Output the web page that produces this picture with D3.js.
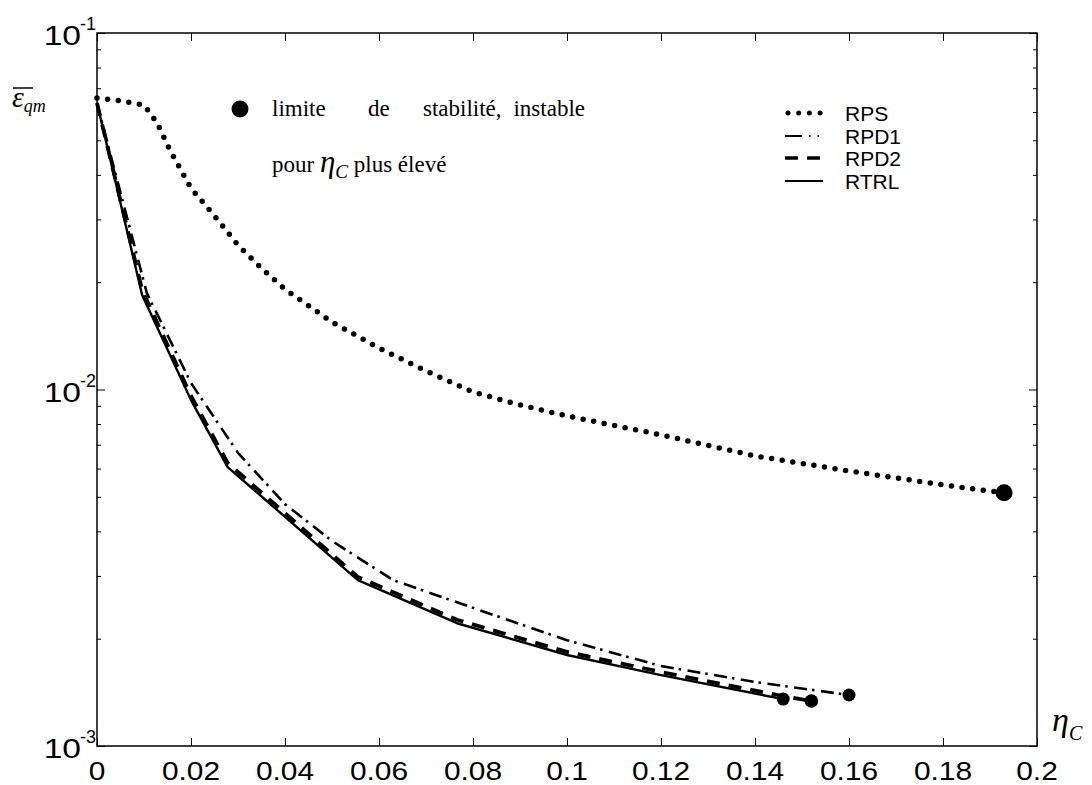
<!DOCTYPE html>
<html>
<head>
<meta charset="utf-8">
<script src="https://cdn.jsdelivr.net/npm/d3@7"></script>
<style>
  body { margin: 0; background: #fff; }
  svg { display: block; }
</style>
</head>
<body>
<div id="chart"></div>
<script>
// values
var etaRPS  = [0, 0.005, 0.01, 0.0128, 0.0155, 0.02, 0.025, 0.03, 0.035, 0.04, 0.05, 0.06, 0.07, 0.08, 0.09, 0.1, 0.12, 0.14, 0.16, 0.18, 0.193];
var errRPS  = [0.0657, 0.0645, 0.0628, 0.0559, 0.0470, 0.0367, 0.0307, 0.0254, 0.0219, 0.0191, 0.01546, 0.01307, 0.01127, 0.00984, 0.00905, 0.00843, 0.00746, 0.00651, 0.00591, 0.00540, 0.00513];

var etaRPD1 = [0, 0.0106, 0.02, 0.03, 0.04, 0.05, 0.063, 0.08, 0.1, 0.12, 0.14, 0.16];
var errRPD1 = [0.0636, 0.01865, 0.01043, 0.00664, 0.00477, 0.00376, 0.00292, 0.00244, 0.00198, 0.001676, 0.001512, 0.00139];

var etaRPD2 = [0, 0.0096, 0.02, 0.0278, 0.0555, 0.0766, 0.1, 0.12, 0.146, 0.152];
var errRPD2 = [0.0636, 0.01902, 0.00959, 0.00622, 0.00298, 0.00226, 0.001836, 0.001613, 0.001381, 0.001337];

var etaRTRL = [0, 0.0096, 0.02, 0.0278, 0.0555, 0.0766, 0.1, 0.12, 0.146];
var errRTRL = [0.0636, 0.01841, 0.00934, 0.00606, 0.00292, 0.00221, 0.0018, 0.00158, 0.001354];

var xTicks = [0, 0.02, 0.04, 0.06, 0.08, 0.1, 0.12, 0.14, 0.16, 0.18, 0.2];
var xTickLabels = ["0", "0.02", "0.04", "0.06", "0.08", "0.1", "0.12", "0.14", "0.16", "0.18", "0.2"];
var yDecades = [1e-1, 1e-2, 1e-3];
var yDecadeExp = ["-1", "-2", "-3"];
var seriesNames = ["RPS", "RPD1", "RPD2", "RTRL"];

var width = 1092, height = 785;
var plotLeft = 97, plotRight = 1037, plotTop = 33, plotBottom = 746;

var svg = d3.select("#chart").append("svg")
    .attr("width", width)
    .attr("height", height);

var x = d3.scaleLinear().domain([0, 0.2]).range([plotLeft, plotRight]);
var y = d3.scaleLog().domain([1e-3, 1e-1]).range([plotBottom, plotTop]);

var sans = "Arial, 'Liberation Sans', Helvetica, sans-serif";
var serif = "'Times New Roman', 'Liberation Serif', 'DejaVu Serif', serif";

// frame
svg.append("rect")
    .attr("x", plotLeft).attr("y", plotTop)
    .attr("width", plotRight - plotLeft).attr("height", plotBottom - plotTop)
    .attr("fill", "none").attr("stroke", "#000").attr("stroke-width", 1.5);

// x ticks, inward on bottom and top
svg.append("g")
    .attr("transform", `translate(0,${plotBottom})`)
    .call(d3.axisBottom(x).tickValues(xTicks).tickSize(-8).tickFormat(""))
    .call(g => g.select(".domain").remove());
svg.append("g")
    .attr("transform", `translate(0,${plotTop})`)
    .call(d3.axisTop(x).tickValues(xTicks).tickSize(-8).tickFormat(""))
    .call(g => g.select(".domain").remove());

// y ticks: decades and minor ticks, inward on both sides
var minor = [];
[1e-3, 1e-2].forEach(function(d) {
    for (var k = 2; k <= 9; k++) minor.push(d * k);
});
svg.append("g")
    .attr("transform", `translate(${plotLeft},0)`)
    .call(d3.axisLeft(y).tickValues(yDecades).tickSize(-8).tickFormat(""))
    .call(g => g.select(".domain").remove());
svg.append("g")
    .attr("transform", `translate(${plotLeft},0)`)
    .call(d3.axisLeft(y).tickValues(minor).tickSize(-4).tickFormat(""))
    .call(g => g.select(".domain").remove());
svg.append("g")
    .attr("transform", `translate(${plotRight},0)`)
    .call(d3.axisRight(y).tickValues(yDecades).tickSize(-8).tickFormat(""))
    .call(g => g.select(".domain").remove());
svg.append("g")
    .attr("transform", `translate(${plotRight},0)`)
    .call(d3.axisRight(y).tickValues(minor).tickSize(-4).tickFormat(""))
    .call(g => g.select(".domain").remove());
svg.selectAll(".tick line").attr("stroke", "#000").attr("stroke-width", 1);

// x tick labels (wide sans digits)
xTicks.forEach(function(t, i) {
    svg.append("text")
        .attr("transform", `translate(${x(t)},780) scale(1.15,1)`)
        .attr("text-anchor", "middle")
        .style("font-family", sans)
        .style("font-size", "26px")
        .text(xTickLabels[i]);
});

// y decade labels 10^k
yDecades.forEach(function(d, i) {
    var yy = y(d);
    svg.append("text")
        .attr("transform", `translate(81,${yy + 12}) scale(1.2,1)`)
        .attr("text-anchor", "end")
        .style("font-family", sans)
        .style("font-size", "28px")
        .text("10");
    svg.append("text")
        .attr("x", 80).attr("y", yy - 3)
        .style("font-family", sans)
        .style("font-size", "18px")
        .text(yDecadeExp[i]);
});

// axis titles
var yTitle = svg.append("text")
    .attr("x", 12).attr("y", 107)
    .style("font-family", serif)
    .style("font-style", "italic");
yTitle.append("tspan").style("font-size", "30px").text("ε");
yTitle.append("tspan").attr("dy", 5).style("font-size", "18px").text("qm");
svg.append("line")
    .attr("x1", 13).attr("x2", 33).attr("y1", 88).attr("y2", 88)
    .attr("stroke", "#000").attr("stroke-width", 1.5);

var xTitle = svg.append("text")
    .attr("x", 1052).attr("y", 731)
    .style("font-family", serif)
    .style("font-style", "italic");
xTitle.append("tspan").style("font-size", "34px").text("η");
xTitle.append("tspan").attr("dy", 9).style("font-size", "20px").text("C");

// curves
var line = d3.line()
    .x(d => x(d[0]))
    .y(d => y(d[1]));

function pairs(eta, err) {
    return eta.map((e, i) => [e, err[i]]);
}

var series = [
    { name: "RPS",  data: pairs(etaRPS, errRPS),   width: 5.5, dash: "0 10.7", cap: "round", r: 8.5 },
    { name: "RPD1", data: pairs(etaRPD1, errRPD1), width: 2.6, dash: "13 5 2.5 6.5", cap: "butt", r: 6.5 },
    { name: "RPD2", data: pairs(etaRPD2, errRPD2), width: 3.8, dash: "13 9", cap: "butt", r: 6.8 },
    { name: "RTRL", data: pairs(etaRTRL, errRTRL), width: 2.4, dash: null, cap: "butt", r: 6.5 }
];

series.forEach(function(s) {
    svg.append("path")
        .datum(s.data)
        .attr("d", line)
        .attr("fill", "none")
        .attr("stroke", "#000")
        .attr("stroke-width", s.width)
        .attr("stroke-linecap", s.cap)
        .attr("stroke-linejoin", "round")
        .attr("stroke-dasharray", s.dash);
    // stability limit marker at the last point
    var last = s.data[s.data.length - 1];
    svg.append("circle")
        .attr("cx", x(last[0]))
        .attr("cy", y(last[1]))
        .attr("r", s.r)
        .attr("fill", "#000");
});

// annotation
svg.append("circle").attr("cx", 240).attr("cy", 109).attr("r", 8.5).attr("fill", "#000");
var words = ["limite", "de", "stabilité,", "instable"];
var wordX = [272, 368, 423, 585];
words.forEach(function(w, i) {
    svg.append("text")
        .attr("x", wordX[i]).attr("y", 116)
        .attr("text-anchor", i === 3 ? "end" : "start")
        .style("font-family", serif)
        .style("font-size", "23px")
        .text(w);
});
var note2 = svg.append("text")
    .attr("x", 272).attr("y", 172)
    .style("font-family", serif)
    .style("font-size", "23px");
note2.append("tspan").text("pour ");
note2.append("tspan").style("font-style", "italic").style("font-size", "31px").text("η");
note2.append("tspan").attr("dy", 6).style("font-style", "italic").style("font-size", "19px").text("C");
note2.append("tspan").attr("dy", -6).text(" plus élevé");

// legend
var legendY = [113, 136, 158, 181];
var legendDash = ["0 10.7", "17 7 1.5 7 1.5 10", "13 9", null];
series.forEach(function(s, i) {
    var x1 = s.name === "RPS" ? 788 : 785;
    svg.append("line")
        .attr("x1", x1).attr("x2", 823)
        .attr("y1", legendY[i]).attr("y2", legendY[i])
        .attr("stroke", "#000")
        .attr("stroke-width", s.name === "RPS" ? 5 : (s.name === "RPD2" ? 3.5 : 2.2))
        .attr("stroke-linecap", s.cap)
        .attr("stroke-dasharray", legendDash[i]);
    svg.append("text")
        .attr("x", 845).attr("y", legendY[i] + 8)
        .style("font-family", sans)
        .style("font-size", "21px")
        .text(seriesNames[i]);
});
</script>
</body>
</html>
